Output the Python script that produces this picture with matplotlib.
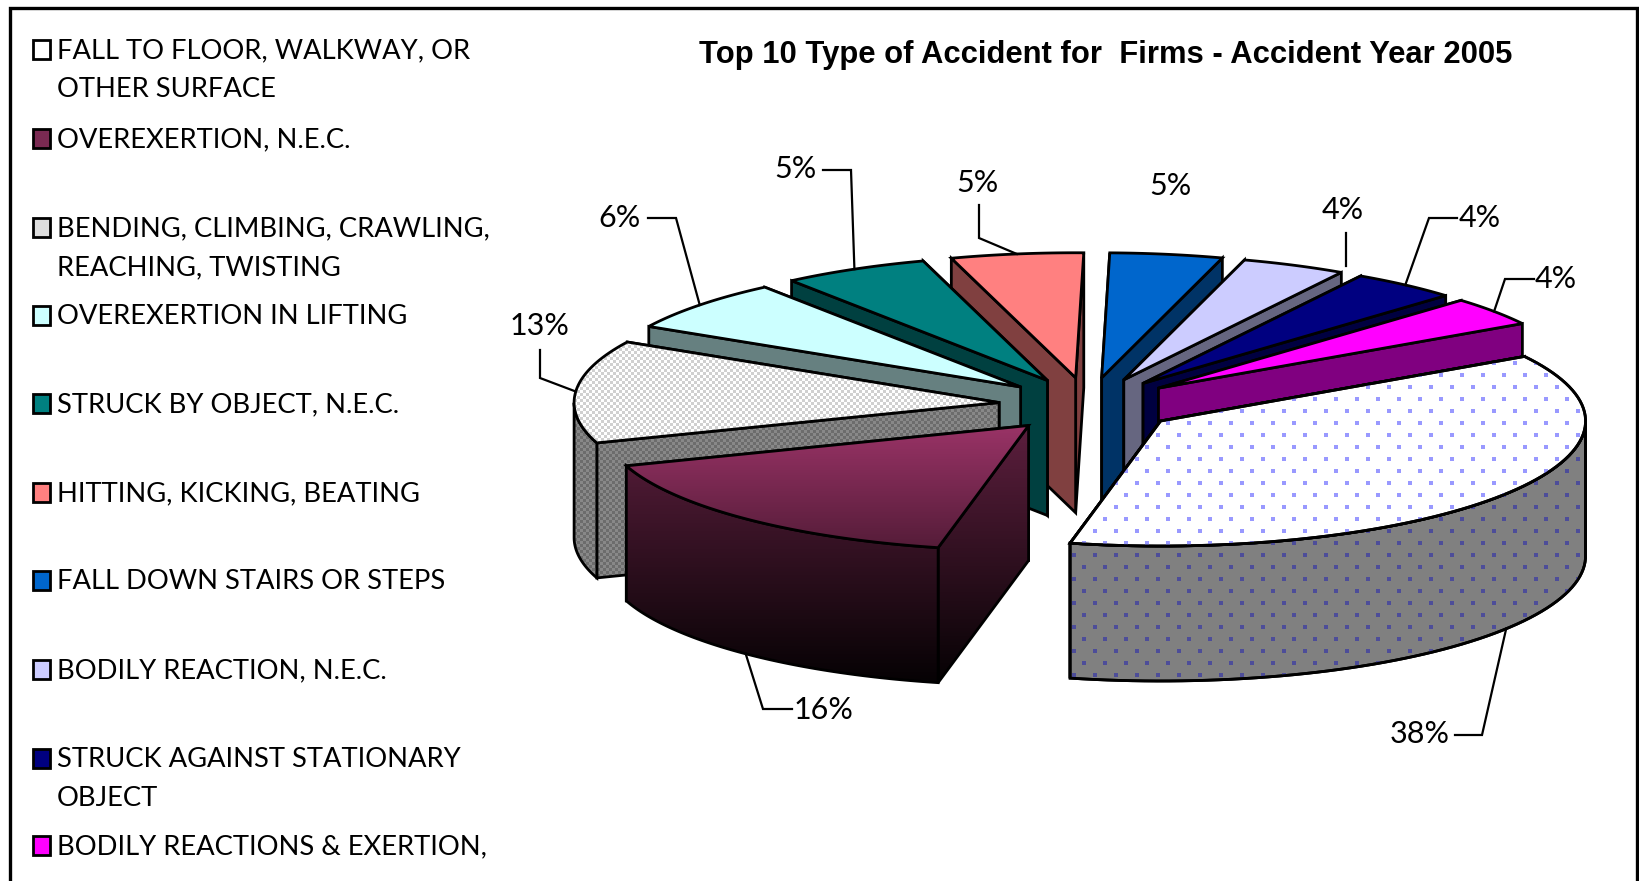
'''
Top 10 accident types, exploded 3D pie drawn by hand with polygons
'''

import numpy as np
import matplotlib
matplotlib.use('Agg')
import matplotlib.pyplot as plt
from matplotlib.colors import to_rgb
from matplotlib.patches import Polygon, Rectangle

plt.rcParams['font.family'] = ['Lato', 'Liberation Sans', 'DejaVu Sans']

title = 'Top 10 Type of Accident for  Firms - Accident Year 2005'

legend_names = ['FALL TO FLOOR, WALKWAY, OR\nOTHER SURFACE',
                'OVEREXERTION, N.E.C.',
                'BENDING, CLIMBING, CRAWLING,\nREACHING, TWISTING',
                'OVEREXERTION IN LIFTING',
                'STRUCK BY OBJECT, N.E.C.',
                'HITTING, KICKING, BEATING',
                'FALL DOWN STAIRS OR STEPS',
                'BODILY REACTION, N.E.C.',
                'STRUCK AGAINST STATIONARY\nOBJECT',
                'BODILY REACTIONS & EXERTION,']

shares = [37.06, 16.36, 13.28, 6.67, 5.56, 5.03, 4.28, 3.97, 4.06, 3.75]
pct_labels = ['38%', '16%', '13%', '6%', '5%', '5%', '5%', '4%', '4%', '4%']

top_colors = ['#ffffff', '#993366', '#ffffff', '#ccffff', '#008080',
              '#ff8080', '#0066cc', '#ccccff', '#000080', '#ff00ff']
wall_colors = ['#808080', '#4d1a33', '#808080', '#668080', '#004040',
               '#804040', '#003366', '#666680', '#000040', '#800080']

# label centre, then leader points from the label towards the slice
label_pos = [(1420, 734), (823, 710), (540, 326), (620, 218), (795, 169),
             (977, 183), (1170, 186), (1343, 210), (1480, 218), (1556, 279)]
leaders = [[(1455, 735), (1482, 735)], [(792, 709), (763, 709)],
           [(540, 350), (540, 378)], [(648, 218), (676, 218)],
           [(823, 170), (851, 170)], [(979, 205), (979, 238)],
           [], [(1346, 233), (1346, 266)], [(1457, 218), (1429, 218)],
           [(1534, 279), (1505, 279)]]
# the leader of the middle 4% stops at the slice corner, not at the rim centre
leader_to_rim = [True, True, True, True, True, True, False, False, True, True]
legend_y = [49, 138, 227, 315, 403, 492, 580, 669, 758, 845]

CX, CY = 1088, 405
RX, RY = 425, 125
EXPLODE_X, EXPLODE_Y = 0.21, 0.22
HEIGHT = 135
START = 31.1
LW = 2.0

fig = plt.figure(figsize=(16.39, 8.81), dpi=100)
ax = fig.add_axes([0, 0, 1, 1])
ax.set_xlim(0, 1639)
ax.set_ylim(881, 0)
ax.axis('off')

z = [2]


def next_z():
    z[0] += 1
    return z[0]


def rim(ox, oy, angles):
    rad = np.radians(angles)
    return np.column_stack([ox + RX * np.cos(rad), oy - RY * np.sin(rad)])


def outline(points, face='none'):
    patch = Polygon(points, closed=True, facecolor=face, edgecolor='black',
                    lw=LW, joinstyle='miter', zorder=next_z())
    ax.add_patch(patch)
    return patch


def gradient(points, factor=1.0):
    '''the wine coloured slice fades to black down the picture'''
    rows = np.linspace(0, 1, 64).reshape(-1, 1, 1)
    base = np.array(to_rgb('#993366')) * factor
    shape = outline(points, 'none')
    y0, y1 = points[:, 1].min(), points[:, 1].max()
    x0, x1 = points[:, 0].min(), points[:, 0].max()
    top = 1 - (y0 - 427) / 273
    bot = 1 - (y1 - 427) / 273
    img = (top + (bot - top) * rows) * base
    im = ax.imshow(np.clip(img, 0, 1), extent=(x0, x1, y1, y0), aspect='auto',
                   interpolation='bilinear', zorder=shape.get_zorder())
    im.set_clip_path(shape)
    shape.set_zorder(next_z())


def checker(points, c1, c2, cell=3):
    shape = outline(points, 'none')
    x0, x1 = points[:, 0].min(), points[:, 0].max()
    y0, y1 = points[:, 1].min(), points[:, 1].max()
    ny, nx = int((y1 - y0) / cell) + 1, int((x1 - x0) / cell) + 1
    mask = np.indices((ny, nx)).sum(axis=0) % 2 == 0
    img = np.where(mask[..., None], np.array(to_rgb(c1)), np.array(to_rgb(c2)))
    im = ax.imshow(img, extent=(x0, x0 + nx * cell, y0 + ny * cell, y0), aspect='auto',
                   interpolation='nearest', zorder=shape.get_zorder())
    im.set_clip_path(shape)
    shape.set_zorder(next_z())


def dotted(points, face, dot):
    shape = outline(points, face)
    xs, ys = [], []
    for r, y in enumerate(np.arange(255, 700, 12)):
        for x in np.arange(1000 + (r % 2) * 10.5, 1620, 21):
            xs.append(x)
            ys.append(y)
    sc = ax.scatter(xs, ys, s=5, marker='s', color=dot, linewidths=0, zorder=next_z())
    sc.set_clip_path(shape)
    ax.add_patch(Polygon(points, closed=True, facecolor='none', edgecolor='black',
                         lw=LW, joinstyle='miter', zorder=next_z()))


def paint(i, points, is_top):
    if i == 0:
        dotted(points, '#ffffff' if is_top else '#808080',
               '#9999ff' if is_top else '#4d4d99')
    elif i == 1:
        gradient(points, 1.0 if is_top else 0.6)
    elif i == 2:
        if is_top:
            checker(points, '#ffffff', '#d0d0d0')
        else:
            checker(points, '#888888', '#6c6c6c')
    else:
        outline(points, top_colors[i] if is_top else wall_colors[i])


# angle at which each slice starts and ends, going clockwise
spans = np.array(shares) / np.sum(shares) * 360
ends = START - np.cumsum(spans)
starts = ends + spans
mids = (starts + ends) / 2

# apex of every exploded slice
apex_x = CX + EXPLODE_X * RX * np.cos(np.radians(mids))
apex_y = CY - EXPLODE_Y * RY * np.sin(np.radians(mids))

# back slices first so the front ones cover them
order = np.argsort(-np.sin(np.radians(mids)))
for i in order:
    ox, oy = apex_x[i], apex_y[i]
    t = np.linspace(starts[i], ends[i], 80)
    arc = rim(ox, oy, t)
    apex = np.array([[ox, oy]])
    down = np.array([0, HEIGHT])

    faces = sorted([arc[0], arc[-1]], key=lambda p: p[1])
    for p in faces:
        paint(i, np.array([[ox, oy], p, p + down, [ox, oy + HEIGHT]]), False)

    front = arc[np.sin(np.radians(t)) <= 0]
    if len(front) > 1:
        paint(i, np.vstack([front, (front + down)[::-1]]), False)
    paint(i, np.vstack([apex, arc]), True)

# percent labels and their leader lines
for i, label in enumerate(pct_labels):
    ax.text(label_pos[i][0], label_pos[i][1], label, ha='center', va='center',
            fontsize=22, color='black', zorder=200)
    if not leaders[i]:
        continue
    pts = list(leaders[i])
    if leader_to_rim[i]:
        rad = np.radians(mids[i])
        rim_x = apex_x[i] + RX * np.cos(rad)
        rim_y = apex_y[i] - RY * np.sin(rad) + (HEIGHT if np.sin(rad) < -0.2 else 0)
        pts.append((rim_x, rim_y))
    ax.plot([p[0] for p in pts], [p[1] for p in pts], color='black', lw=1.6,
            solid_joinstyle='miter', zorder=199)

# legend column
for i, name in enumerate(legend_names):
    y = legend_y[i]
    swatch = np.array([[33, y - 9], [50, y - 9], [50, y + 10], [33, y + 10]])
    if i == 1:
        ax.add_patch(Rectangle((33, y - 9), 17, 19, facecolor='#7a2a52', edgecolor='black',
                               lw=LW, zorder=100))
    elif i == 2:
        ax.add_patch(Rectangle((33, y - 9), 17, 19, facecolor='#dddddd', edgecolor='black',
                               lw=LW, zorder=100))
    else:
        ax.add_patch(Polygon(swatch, closed=True, facecolor=top_colors[i], edgecolor='black',
                             lw=LW, zorder=100))
    ax.text(57, y - 11, name, ha='left', va='top', fontsize=19.7, linespacing=1.72,
            color='black', zorder=100)

ax.text(1106, 55, title, ha='center', va='center', fontsize=22.3, fontweight='bold',
        family=['Liberation Sans'], color='black', zorder=100)

# frame, open at the bottom where the original is cut off
ax.plot([10, 10, 1637, 1637], [881, 8, 8, 881], color='black', lw=2.4,
        solid_joinstyle='miter', zorder=300)

fig.savefig('out.png', dpi=100, facecolor='white')
